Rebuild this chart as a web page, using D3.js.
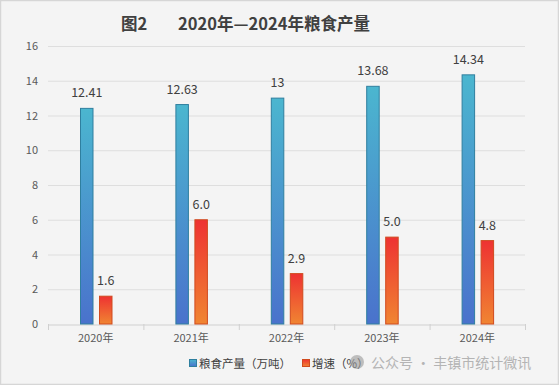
<!DOCTYPE html>
<head>
<meta charset="utf-8">
<style>
    body { margin: 0; background: #fff; }
    text { font-family: "Noto Sans CJK SC", "Noto Sans", sans-serif; }
</style>
</head>
<body>
    <script src="https://d3js.org/d3.v7.min.js"></script>
    <script>

    ////////// DATA //////////
    const years = ['2020年', '2021年', '2022年', '2023年', '2024年'];
    const output = [12.41, 12.63, 13, 13.68, 14.34];
    const growth = [1.6, 6.0, 2.9, 5.0, 4.8];
    const growthLabels = ['1.6', '6.0', '2.9', '5.0', '4.8'];
    const yTicks = [0, 2, 4, 6, 8, 10, 12, 14, 16];
    const seriesNames = ['粮食产量（万吨）', '增速（%）'];

    ////////// SETUP //////////
    const W = 559, H = 385;
    const plot = { left: 48, right: 525, top: 46, bottom: 324 };

    let svg = d3.select('body').append('svg')
        .attr('width', W).attr('height', H);

    svg.append('rect').attr('x', 0.5).attr('y', 0.5)
        .attr('width', W - 1).attr('height', H - 1)
        .attr('fill', '#f4f4f4').attr('stroke', '#d6d6d6').attr('stroke-width', 1.5);

    let defs = svg.append('defs');
    let gb = defs.append('linearGradient').attr('id', 'gBlue')
        .attr('x1', 0).attr('y1', 0).attr('x2', 0).attr('y2', 1);
    gb.append('stop').attr('offset', '0%').attr('stop-color', '#4bb6cf');
    gb.append('stop').attr('offset', '100%').attr('stop-color', '#4a72cc');
    let go = defs.append('linearGradient').attr('id', 'gOrange')
        .attr('x1', 0).attr('y1', 0).attr('x2', 0).attr('y2', 1);
    go.append('stop').attr('offset', '0%').attr('stop-color', '#ee3232');
    go.append('stop').attr('offset', '100%').attr('stop-color', '#f08532');

    const x = d3.scaleBand().domain(years).range([plot.left, plot.right]);
    const y = d3.scaleLinear().domain([0, 16]).range([plot.bottom, plot.top]);

    // title
    svg.append('text').attr('x', 121).attr('y', 30)
        .attr('font-size', 16.5).attr('font-weight', 'bold').attr('fill', '#404040')
        .text('图2');
    svg.append('text').attr('x', 178).attr('y', 30)
        .attr('font-size', 16.5).attr('font-weight', 'bold').attr('fill', '#404040')
        .attr('textLength', 192)
        .text('2020年—2024年粮食产量');

    // grid
    svg.append('g').selectAll('line').data(yTicks.filter(d => d > 0)).join('line')
        .attr('x1', plot.left).attr('x2', plot.right)
        .attr('y1', d => y(d) + 0.5).attr('y2', d => y(d) + 0.5)
        .attr('stroke', '#dedede');

    // y axis labels
    svg.append('g').selectAll('text').data(yTicks).join('text')
        .attr('x', 38).attr('y', d => y(d) + 4)
        .attr('text-anchor', 'end')
        .attr('font-size', 11).attr('fill', '#595959')
        .text(d => d);

    // x axis
    let xAxis = svg.append('g')
        .attr('transform', 'translate(0,' + (plot.bottom + 0.5) + ')')
        .call(d3.axisBottom(x).tickSize(0).tickPadding(10));
    xAxis.select('.domain').attr('stroke', '#d0d0d0');
    xAxis.selectAll('text').attr('font-size', 11).attr('fill', '#595959')
        .attr('font-family', '"Noto Sans CJK SC", sans-serif');
    svg.append('g').selectAll('line')
        .data(years.map(d => x(d)).concat([plot.right])).join('line')
        .attr('x1', d => d + 0.5).attr('x2', d => d + 0.5)
        .attr('y1', plot.bottom).attr('y2', plot.bottom + 6)
        .attr('stroke', '#d0d0d0');

    // bars
    const bw = 12.5;
    const offs = [32, 51];
    const series = [
        { vals: output, labels: output.map(String), fill: 'url(#gBlue)', stroke: '#2f7f9f' },
        { vals: growth, labels: growthLabels, fill: 'url(#gOrange)', stroke: '#d04a1e' }
    ];
    series.forEach((s, i) => {
        let g = svg.append('g');
        g.selectAll('rect').data(s.vals).join('rect')
            .attr('x', (d, j) => x(years[j]) + offs[i] + 0.5)
            .attr('y', d => y(d))
            .attr('width', bw).attr('height', d => plot.bottom - y(d))
            .attr('fill', s.fill).attr('stroke', s.stroke).attr('stroke-width', 1);
        g.selectAll('text').data(s.vals).join('text')
            .attr('x', (d, j) => x(years[j]) + offs[i] + bw / 2 + 0.5)
            .attr('y', d => y(d) - 11)
            .attr('text-anchor', 'middle')
            .attr('font-size', 12.5).attr('fill', '#404040')
            .text((d, j) => s.labels[j]);
    });

    // legend
    const legX = [189, 302];
    const legFill = ['url(#gBlue)', 'url(#gOrange)'];
    const legStroke = ['#2f7f9f', '#d04a1e'];
    seriesNames.forEach((n, i) => {
        svg.append('rect').attr('x', legX[i] + 0.5).attr('y', 359.5)
            .attr('width', 7).attr('height', 7)
            .attr('fill', legFill[i]).attr('stroke', legStroke[i]);
        svg.append('text').attr('x', legX[i] + 10).attr('y', 368)
            .attr('font-size', 11.5).attr('fill', '#404040').text(n);
    });

    // watermark
    let wm = svg.append('g').attr('opacity', 0.6);
    wm.append('circle').attr('cx', 357).attr('cy', 362).attr('r', 7).attr('fill', '#9a9a9a');
    wm.append('text').attr('x', 371).attr('y', 368)
        .attr('font-size', 14).attr('fill', '#8a8a8a')
        .text('公众号 · 丰镇市统计微讯');

    </script>
</body>
